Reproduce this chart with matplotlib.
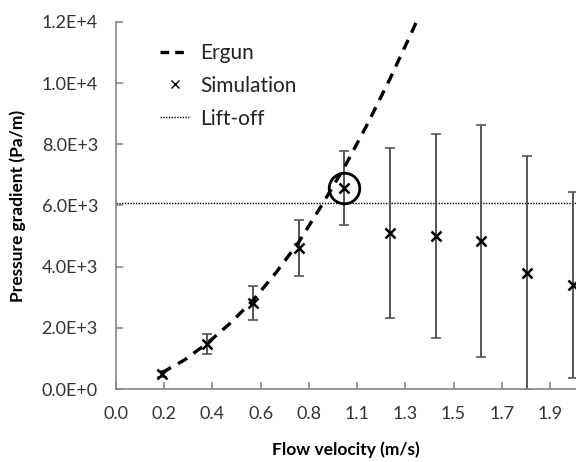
import numpy as np
import matplotlib
matplotlib.use('Agg')
import matplotlib.pyplot as plt
from matplotlib.ticker import FuncFormatter, FixedLocator

# data
sim_velocity = [0.2, 0.4, 0.6, 0.8, 1.0, 1.2, 1.4, 1.6, 1.8, 2.0]
sim_gradient = [490, 1470, 2810, 4610, 6570, 5100, 5000, 4840, 3790, 3400]
sim_error = [110, 340, 550, 910, 1210, 2770, 3340, 3780, 3830, 3030]
highlight_idx = 4   # circled point

ergun_velocity = [0.2, 0.3, 0.4, 0.5, 0.6, 0.7, 0.8, 0.9, 1.0, 1.1, 1.2, 1.3, 1.4]
ergun_gradient = [530, 950, 1500, 2150, 2900, 3800, 4800, 6000, 7250, 8650, 10150, 11750, 13450]

liftoff = 6070
x_tick_step = 0.2111
n_xticks = 10

plt.rcParams['font.family'] = ['Lato', 'DejaVu Sans']

fig = plt.figure(figsize=(5.76, 4.62), dpi=100)
ax = fig.add_axes([0.2014, 0.158, 0.7986, 0.7944])

ax.plot(ergun_velocity, ergun_gradient, color='black', lw=2.4,
        dashes=(3.2, 2.4), label='Ergun', zorder=3)
ax.errorbar(sim_velocity, sim_gradient, yerr=sim_error, fmt='none',
            ecolor='#555555', elinewidth=1.4, capsize=3.5, capthick=1.2, zorder=2)
ax.plot(sim_velocity, sim_gradient, ls='none', marker='x', color='black',
        ms=7, mew=1.8, zorder=4)
ax.plot([sim_velocity[highlight_idx]], [sim_gradient[highlight_idx]], ls='none',
        marker='o', ms=22, mfc='none', mec='black', mew=2, zorder=5)
ax.axhline(liftoff, color='black', lw=1, ls=(0, (1, 1)), zorder=1)

# legend handles
h1, = ax.plot([], [], color='black', lw=2.4, dashes=(2.6, 1.8))
h2, = ax.plot([], [], ls='none', marker='x', color='black', ms=6, mew=1)
h3, = ax.plot([], [], color='black', lw=1, ls=(0, (1, 1)))
ax.legend([h1, h2, h3], ['Ergun', 'Simulation', 'Lift-off'], loc='upper left',
          bbox_to_anchor=(0.078, 0.966), frameon=False,
          handlelength=1.4, handletextpad=0.5, labelspacing=0.62,
          borderaxespad=0, prop={'size': 15}, labelcolor='#222222')

ax.set_xlim(0, 2.014)
ax.set_ylim(0, 12000)

xt = [k * x_tick_step for k in range(n_xticks)]
ax.xaxis.set_major_locator(FixedLocator(xt))
ax.xaxis.set_major_formatter(FuncFormatter(lambda v, p: f"{v:.1f}"))
ax.set_yticks(np.arange(0, 12001, 2000))


def sci(v, p):
    m, e = f"{v:.1E}".split('E')
    return f"{m}E{'+' if int(e) >= 0 else '-'}{abs(int(e))}"


ax.yaxis.set_major_formatter(FuncFormatter(sci))

for s in ['top', 'right']:
    ax.spines[s].set_visible(False)
for s in ['left', 'bottom']:
    ax.spines[s].set_color('#868686')
    ax.spines[s].set_linewidth(1.2)
ax.tick_params(axis='both', direction='in', length=5, width=1.2,
               color='#868686', labelsize=13, labelcolor='#333333')
ax.tick_params(axis='y', pad=13)
ax.tick_params(axis='x', pad=12)

ax.set_xlabel('Flow velocity (m/s)', fontsize=12.5, fontweight='bold', labelpad=14)
ax.set_ylabel('Pressure gradient (Pa/m)', fontsize=12.5, fontweight='bold', labelpad=11)

fig.savefig('out.png', dpi=100)
